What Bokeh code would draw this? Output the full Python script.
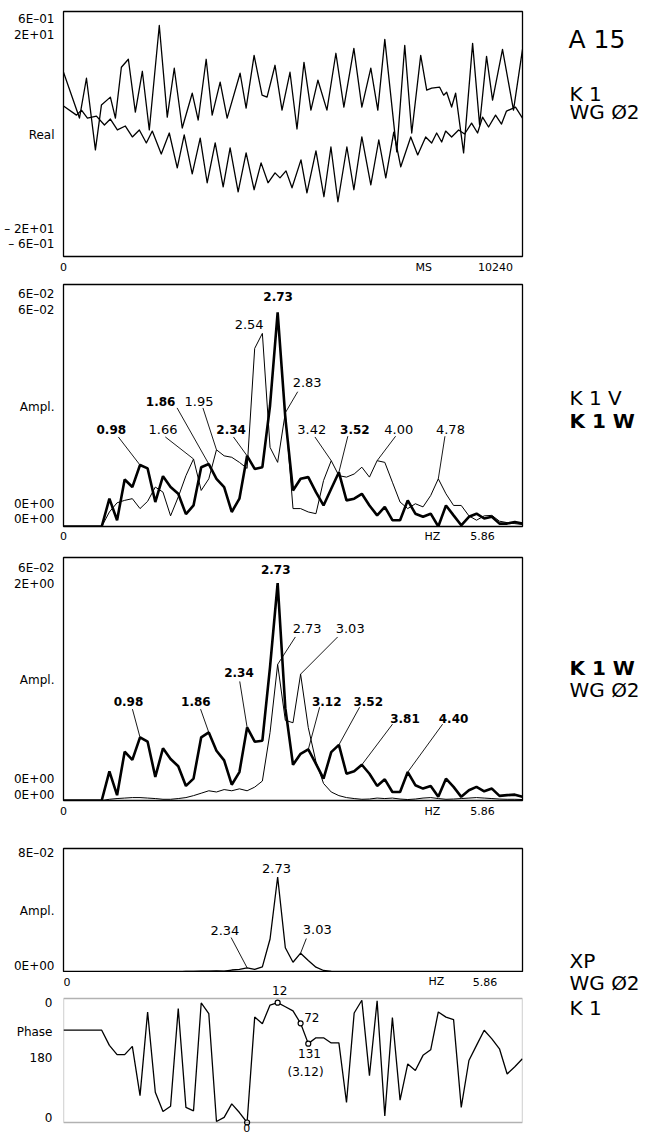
from bokeh.plotting import figure
from bokeh.models import Range1d, FixedTicker, Label, BoxAnnotation
from bokeh.layouts import column, row
from bokeh.embed import file_html
from bokeh.resources import INLINE

FONT = "DejaVu Sans"

# ---------------- Panel 1: time signals (ms, relative to full scale) ----------------
upper_t = [0, 356, 512, 712, 846, 1046, 1158, 1291, 1447, 1603, 1759, 1914, 2137, 2315, 2471,
           2649, 2872, 3005, 3183, 3317, 3495, 3651, 3940, 4074, 4252, 4430, 4541, 4719, 4875, 5053,
           5209, 5365, 5520, 5676, 5877, 6077, 6255, 6478, 6656, 6856, 7012, 7168, 7435, 7613, 7769,
           7969, 8103, 8214, 8392, 8481, 8548, 8659, 8748, 8926, 9127, 9283, 9438, 9572, 9794, 10039, 10240]
upper_y = [0.504, 0.130, 0.455, -0.130, 0.236, 0.301, 0.130, 0.545, 0.610, 0.179, 0.512, 0.033, 0.886, 0.138, 0.537,
           0.049, 0.333, 0.114, 0.610, 0.154, 0.423, 0.130, 0.496, 0.211, 0.642, 0.317, 0.301, 0.561, 0.195, 0.504,
           0.041, 0.585, 0.195, 0.439, 0.195, 0.659, 0.220, 0.699, 0.220, 0.537, 0.195, 0.772, -0.146, 0.724, 0.008,
           0.642, 0.358, 0.374, 0.382, 0.317, 0.341, 0.220, 0.333, -0.154, 0.740, 0.073, 0.634, 0.276, 0.691, 0.195, 0.691]
lower_t = [0, 289, 401, 534, 735, 913, 1046, 1202, 1380, 1536, 1692, 1848, 1981, 2181, 2360,
           2538, 2693, 2872, 3050, 3205, 3384, 3562, 3717, 3896, 4074, 4252, 4408, 4563, 4719, 4830,
           4964, 5098, 5298, 5431, 5632, 5810, 5966, 6122, 6322, 6478, 6656, 6856, 7034, 7190, 7368,
           7524, 7747, 7902, 8080, 8214, 8325, 8437, 8526, 8659, 8815, 8948, 9104, 9238, 9349, 9483,
           9639, 9772, 9883, 10084, 10240]
lower_y = [0.228, 0.154, 0.195, 0.130, 0.146, 0.073, 0.122, 0.033, 0.065, -0.024, 0.033, -0.073, 0.024, -0.163, 0.008,
           -0.276, -0.008, -0.325, -0.033, -0.398, -0.073, -0.431, -0.114, -0.472, -0.154, -0.455, -0.236, -0.398, -0.317, -0.358,
           -0.301, -0.439, -0.211, -0.480, -0.138, -0.512, -0.106, -0.553, -0.106, -0.455, -0.024, -0.415, -0.049, -0.358, 0.016,
           -0.268, -0.024, -0.171, -0.024, -0.073, 0.008, -0.065, 0.024, -0.024, 0.033, 0.000, 0.089, 0.008, 0.138, 0.057,
           0.154, 0.081, 0.187, 0.220, 0.130]

# ---------------- Spectra: frequency bins (Hz) ----------------
freq_hz = [0.000, 0.098, 0.195, 0.293, 0.391, 0.488, 0.586, 0.684, 0.781, 0.879,
           0.977, 1.074, 1.172, 1.270, 1.367, 1.465, 1.563, 1.660, 1.758, 1.855,
           1.953, 2.051, 2.148, 2.246, 2.344, 2.441, 2.539, 2.637, 2.734, 2.832,
           2.930, 3.027, 3.125, 3.223, 3.320, 3.418, 3.516, 3.613, 3.711, 3.809,
           3.906, 4.004, 4.102, 4.199, 4.297, 4.395, 4.492, 4.590, 4.688, 4.785,
           4.883, 4.980, 5.078, 5.176, 5.273, 5.371, 5.469, 5.566, 5.664, 5.762, 5.859]

# Panel 2 (relative amplitude): K 1 V (thin) and K 1 W (bold)
k1v_ampl = [0, 0, 0, 0, 0, 0, 0.060, 0.098, 0.108, 0.115, 0.074, 0.104, 0.163, 0.142, 0.044, 0.122,
            0.210, 0.279, 0.149, 0.197, 0.317, 0.292, 0.286, 0.265, 0.240, 0.736, 0.798, 0.327, 0.265,
            0.470, 0.074, 0.074, 0.060, 0.053, 0.190, 0.272, 0.210, 0.204, 0.217, 0.245, 0.204, 0.272,
            0.265, 0.183, 0.101, 0.074, 0.094, 0.081, 0.128, 0.197, 0.135, 0.087, 0.087, 0.044, 0.026,
            0.044, 0.046, 0.022, 0.016, 0.012, 0.008]
k1w_ampl = [0, 0, 0, 0, 0, 0, 0.115, 0.026, 0.194, 0.163, 0.254, 0.240, 0.101, 0.208, 0.163, 0.135,
            0.051, 0.087, 0.245, 0.258, 0.197, 0.163, 0.060, 0.115, 0.292, 0.238, 0.245, 0.500, 0.885,
            0.450, 0.149, 0.197, 0.204, 0.142, 0.087, 0.156, 0.224, 0.108, 0.115, 0.135, 0.087, 0.046,
            0.081, 0.026, 0.026, 0.108, 0.053, 0.040, 0.053, 0.000, 0.087, 0.046, 0.005, 0.040, 0.053,
            0.033, 0.040, 0.012, 0.012, 0.019, 0.012]

# Panel 3 (relative amplitude): K 1 W (bold) and WG 02 (thin)
k1w_ampl_b = [0, 0, 0, 0, 0, 0, 0.120, 0.022, 0.201, 0.167, 0.260, 0.242, 0.097, 0.215, 0.171, 0.141,
              0.060, 0.090, 0.260, 0.280, 0.205, 0.165, 0.065, 0.117, 0.301, 0.242, 0.246, 0.550, 0.895,
              0.380, 0.147, 0.192, 0.210, 0.151, 0.090, 0.199, 0.229, 0.110, 0.120, 0.147, 0.110, 0.060,
              0.087, 0.035, 0.035, 0.117, 0.063, 0.049, 0.060, 0.015, 0.090, 0.056, 0.015, 0.042, 0.056,
              0.038, 0.049, 0.019, 0.022, 0.024, 0.015]
wg02_ampl = [0, 0, 0, 0, 0, 0, 0.005, 0.008, 0.010, 0.012, 0.012, 0.010, 0.008, 0.005, 0.005, 0.008,
             0.012, 0.020, 0.030, 0.040, 0.035, 0.045, 0.040, 0.048, 0.040, 0.055, 0.080, 0.280, 0.560,
             0.330, 0.320, 0.520, 0.300, 0.160, 0.070, 0.035, 0.020, 0.012, 0.008, 0.005, 0.006, 0.010,
             0.008, 0.010, 0.006, 0.004, 0.006, 0.010, 0.012, 0.008, 0.005, 0.006, 0.008, 0.010, 0.012,
             0.010, 0.008, 0.006, 0.005, 0.005, 0.004]

# Panel 4 (relative amplitude) and panel 5 (phase, degrees): cross spectrum XP
xp_ampl = [0, 0, 0, 0, 0, 0, 0, 0, 0, 0, 0, 0, 0, 0.003, 0.005, 0.005, 0.008, 0.008, 0.010, 0.010,
           0.012, 0.010, 0.020, 0.025, 0.038, 0.025, 0.045, 0.270, 0.770, 0.200, 0.083, 0.156, 0.097,
           0.043, 0.016, 0.008, 0.005, 0.005, 0.006, 0.005, 0.004, 0.005, 0.006, 0.005, 0.004, 0.004,
           0.005, 0.004, 0.004, 0.003, 0.004, 0.003, 0.003, 0.004, 0.003, 0.003, 0.002, 0.003, 0.002,
           0.002, 0.002]
xp_phase = [92, 92, 92, 92, 92, 92, 136, 163, 163, 139, 282, 39, 272, 328, 313, 29, 316, 326, 13, 44,
            357, 345, 306, 331, 360, 54, 73, 19, 12, 24, 36, 72, 131, 114, 114, 129, 129, 302, 42, 5,
            224, 7, 341, 55, 295, 190, 209, 165, 149, 39, 54, 61, 316, 180, 136, 92, 117, 146, 219,
            198, 175]
phase_marked_bins = [24, 28, 31, 32]

# ---------------- annotation layout (text, series, bin, label x, label y, leader x, leader y) ----------------
notes_p2 = [("0.98", "W", 10, 0.61, 0.402, 0.70, 0.37),
            ("1.66", "V", 17, 1.27, 0.402, 1.30, 0.37),
            ("1.86", "W", 19, 1.24, 0.516, 1.45, 0.49),
            ("1.95", "V", 20, 1.73, 0.516, 1.78, 0.49),
            ("2.34", "W", 24, 2.14, 0.402, 2.17, 0.37),
            ("2.54", "V", 26, 2.37, 0.836, None, None),
            ("2.73", "W", 28, 2.74, 0.949, None, None),
            ("2.83", "V", 29, 3.11, 0.594, 2.99, 0.557),
            ("3.42", "V", 35, 3.17, 0.402, 3.21, 0.37),
            ("3.52", "W", 36, 3.72, 0.402, 3.63, 0.373),
            ("4.00", "V", 41, 4.28, 0.402, 4.24, 0.373),
            ("4.78", "V", 49, 4.94, 0.402, 4.87, 0.373)]
notes_p3 = [("2.73", "W", 28, 2.71, 0.949, None, None),
            ("2.73", "G", 28, 3.11, 0.706, 2.96, 0.673),
            ("3.03", "G", 31, 3.66, 0.706, 3.50, 0.673),
            ("2.34", "W", 24, 2.24, 0.527, 2.25, 0.49),
            ("0.98", "W", 10, 0.83, 0.408, 0.88, 0.376),
            ("1.86", "W", 19, 1.69, 0.408, 1.75, 0.376),
            ("3.12", "W", 32, 3.36, 0.408, 3.27, 0.384),
            ("3.52", "W", 36, 3.89, 0.408, 3.78, 0.384),
            ("3.81", "W", 39, 4.36, 0.339, 4.20, 0.314),
            ("4.40", "W", 45, 4.98, 0.339, 4.84, 0.314)]
notes_p4 = [("2.73", "X", 28, 2.72, 0.839, None, None),
            ("2.34", "X", 24, 2.06, 0.339, 2.14, 0.282),
            ("3.03", "X", 31, 3.24, 0.347, 3.10, 0.274)]

LEFT_W = 525
# right-hand captions: (text, bold, font size, x from side-strip left, baseline y from page top)
captions = [("A 15", False, "25px", 43, 39),
            ("K 1", False, "20px", 44, 93),
            ("WG \u00d82", False, "20px", 44, 111),
            ("K 1 V", False, "20px", 44, 397),
            ("K 1 W", True, "20px", 44, 420),
            ("K 1 W", True, "20px", 44, 667),
            ("WG \u00d82", False, "20px", 44, 689),
            ("XP", False, "20px", 44, 960),
            ("WG \u00d82", False, "20px", 44, 982),
            ("K 1", False, "20px", 44, 1007)]


def style_axis(ax, labels, fs, so):
    ax.ticker = FixedTicker(ticks=list(labels.keys()))
    ax.major_label_overrides = dict(labels)
    ax.axis_line_color = None
    ax.major_tick_line_color = None
    ax.minor_tick_line_color = None
    ax.major_tick_out = 0
    ax.major_tick_in = 0
    ax.major_label_standoff = so
    ax.major_label_text_font = FONT
    ax.major_label_text_font_size = fs
    ax.major_label_text_color = "black"


def make_fig(height, top, bottom, xr, yr, xlabels, ylabels, x_standoff, show_x=True, y_standoff=9):
    p = figure(width=LEFT_W, height=height, x_range=xr, y_range=yr, output_backend="svg",
               toolbar_location=None, min_border_top=top, min_border_bottom=bottom,
               min_border_left=63, min_border_right=3,
               x_axis_location="below" if show_x else None)
    p.outline_line_color = "black"
    p.outline_line_width = 1.3
    p.outline_line_alpha = 1.0
    p.grid.visible = False
    p.background_fill_color = "white"
    p.border_fill_color = "white"
    style_axis(p.yaxis[0], ylabels, "12px", y_standoff)
    if show_x:
        style_axis(p.xaxis[0], xlabels, "11px", x_standoff)
    return p


def add_label(p, x, y, text, size, bold=False, align="center", baseline="middle"):
    p.add_layout(Label(x=x, y=y, text=text, text_font=FONT, text_font_size=size,
                       text_font_style="bold" if bold else "normal", text_color="black",
                       text_align=align, text_baseline=baseline))


def add_notes(p, notes, series, bold_keys):
    x0, y0, x1, y1 = [], [], [], []
    for text, key, k, lx, ly, sx, sy in notes:
        bold = key in bold_keys
        add_label(p, lx, ly, text, "12px" if bold else "13px", bold=bold)
        if sx is not None:
            x0.append(sx); y0.append(sy)
            x1.append(freq_hz[k]); y1.append(series[key][k])
    if x0:
        p.segment(x0=x0, y0=y0, x1=x1, y1=y1, line_color="black", line_width=0.9)


# ---------------- Panel 1 ----------------
f1 = make_fig(276, 11, 19, Range1d(0, 10240), Range1d(-1, 1),
              {0: "0", 8036: "MS", 9639: "10240"},
              {0.935: "6E\u201301", 0.805: "2E+01", -0.008: "Real", -0.772: "\u2013 2E+01", -0.902: "\u2013 6E\u201301"},
              4)
f1.line(upper_t, upper_y, line_color="black", line_width=1.3, line_join="round")
f1.line(lower_t, lower_y, line_color="black", line_width=1.3, line_join="round")

# ---------------- Panel 2 ----------------
f2 = make_fig(269, 8, 17, Range1d(0, 5.86), Range1d(0, 1),
              {0: "0", 4.71: "HZ", 5.35: "5.86"},
              {0.959: "6E\u201302", 0.893: "6E\u201302", 0.492: "Ampl.", 0.094: "0E+00", 0.033: "0E+00"},
              3)
f2.line(freq_hz, k1v_ampl, line_color="black", line_width=1.0)
f2.line(freq_hz, k1w_ampl, line_color="black", line_width=2.6)
add_notes(f2, notes_p2, {"V": k1v_ampl, "W": k1w_ampl}, {"W"})

# ---------------- Panel 3 ----------------
f3 = make_fig(275, 12, 18, Range1d(0, 5.86), Range1d(0, 1),
              {0: "0", 4.71: "HZ", 5.35: "5.86"},
              {0.955: "6E\u201302", 0.890: "2E+00", 0.494: "Ampl.", 0.090: "0E+00", 0.024: "0E+00"},
              4)
f3.line(freq_hz, wg02_ampl, line_color="black", line_width=1.0)
f3.line(freq_hz, k1w_ampl_b, line_color="black", line_width=2.6)
add_notes(f3, notes_p3, {"G": wg02_ampl, "W": k1w_ampl_b}, {"W"})

# ---------------- Panel 4 (its frequency labels sit in the strip below, shared x scale) ----------------
f4 = make_fig(152, 28, 0, Range1d(0, 5.86), Range1d(0, 1),
              {}, {0.96: "8E\u201302", 0.5: "Ampl.", 0.032: "0E+00"}, 3, show_x=False)
f4.line(freq_hz, xp_ampl, line_color="black", line_width=1.3)
add_notes(f4, notes_p4, {"X": xp_ampl}, set())

# ---------------- Panel 5 (phase; frame spans the whole strip so outside labels show) ----------------
f5 = make_fig(163, 0, 0, Range1d(0, 5.86), Range1d(397.7, -75.5),
              {}, {11.6: "0", 95.8: "Phase", 174: "180", 348: "0"}, 3, show_x=False, y_standoff=11)
f5.outline_line_color = None
f5.add_layout(BoxAnnotation(left=0, right=5.86, top=0, bottom=360, fill_alpha=0,
                            line_color="black", line_width=1.3))
f5.line(freq_hz, xp_phase, line_color="black", line_width=1.3)
f5.scatter([freq_hz[k] for k in phase_marked_bins], [xp_phase[k] for k in phase_marked_bins],
           size=5, marker="circle", fill_color="white", line_color="black", line_width=1.2)
# frequency labels of panel 4
add_label(f5, 0.0, -49, "0", "11px", align="left")
add_label(f5, 4.76, -49, "HZ", "11px")
add_label(f5, 5.38, -49, "5.86", "11px")
# phase annotations
add_label(f5, 2.76, -24, "12", "12px")
add_label(f5, 3.17, 55, "72", "12px")
add_label(f5, 3.14, 160, "131", "12px")
add_label(f5, 3.09, 212, "(3.12)", "12px")
add_label(f5, 2.34, 376, "0", "11px")

# ---------------- right-hand caption strip ----------------
side = figure(width=667 - LEFT_W, height=1135, x_range=Range1d(0, 667 - LEFT_W), y_range=Range1d(1135, 0),
              output_backend="svg", toolbar_location=None, min_border=0,
              x_axis_location=None, y_axis_location=None)
side.outline_line_color = None
side.grid.visible = False
for text, bold, size, cx, cy in captions:
    add_label(side, cx, cy, text, size, bold=bold, align="left", baseline="alphabetic")

layout = row(column(f1, f2, f3, f4, f5, spacing=0), side, spacing=0)
open("out.html", "w").write(file_html(layout, INLINE))
